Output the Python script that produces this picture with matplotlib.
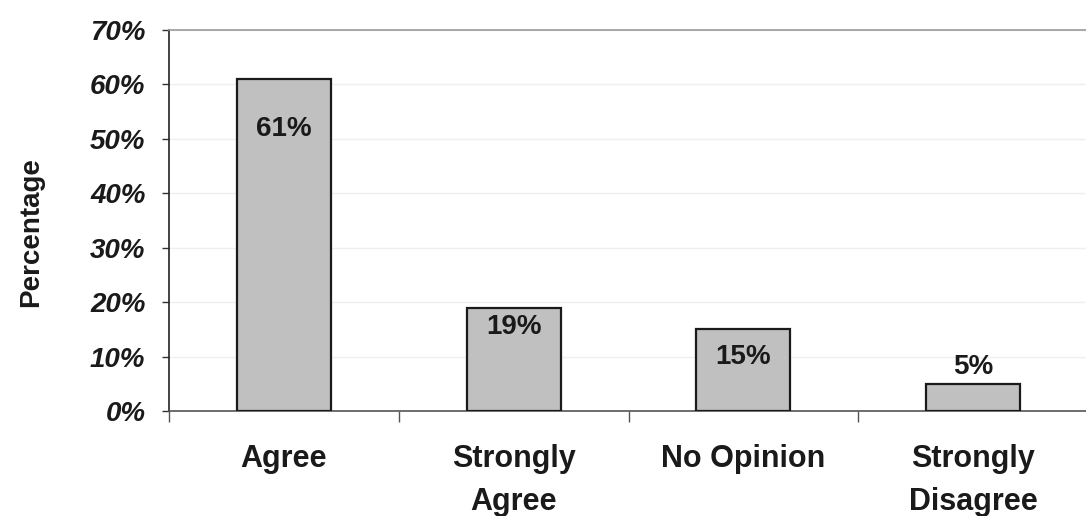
import matplotlib
matplotlib.use("Agg")
import matplotlib.pyplot as plt
from matplotlib.ticker import MultipleLocator, FuncFormatter

categories = ["Agree", "Strongly\nAgree", "No Opinion", "Strongly\nDisagree"]
percentages = [61, 19, 15, 5]
value_labels = ["61%", "19%", "15%", "5%"]

plt.rcParams["font.family"] = ["Liberation Sans", "DejaVu Sans"]

fig = plt.figure(figsize=(10.86, 5.16), dpi=100)
ax = fig.add_axes([169 / 1086, 105 / 516, 919 / 1086, 381 / 516])

x = list(range(len(categories)))
bars = ax.bar(x, percentages, width=0.41, color="#c0c0c0",
              edgecolor="#1a1a1a", linewidth=1.6, zorder=3)

# value labels: inside the taller bars, above the short one
label_offsets = [-36, -14, -20, 12]
for xi, val, txt, off in zip(x, percentages, value_labels, label_offsets):
    ax.annotate(txt, xy=(xi, val), xytext=(0, off), textcoords="offset points",
                ha="center", va="center", fontsize=20, fontweight="bold",
                color="#1a1a1a", zorder=4)

ax.set_xlim(-0.5, len(categories) - 0.5)
ax.set_ylim(0, 70)
ax.yaxis.set_major_locator(MultipleLocator(10))
ax.yaxis.set_major_formatter(FuncFormatter(lambda v, p: f"{int(v)}%"))
ax.grid(axis="y", color="#efefef", linewidth=1.0, zorder=0)

# category labels centred under bars, ticks at category boundaries
ax.set_xticks(x)
ax.set_xticklabels(categories, fontsize=22, fontweight="bold", linespacing=1.55,
                   color="#1a1a1a")
ax.tick_params(axis="x", which="major", length=0, pad=24)
ax.set_xticks([i + 0.5 for i in range(-1, len(categories))], minor=True)
ax.tick_params(axis="x", which="minor", length=8, width=1, color="#555555",
               direction="out")

for lbl in ax.get_yticklabels():
    lbl.set_fontsize(20)
    lbl.set_fontweight("bold")
    lbl.set_fontstyle("italic")
    lbl.set_color("#1a1a1a")
ax.tick_params(axis="y", length=5, width=1, color="#333333", pad=12)

ax.set_ylabel("Percentage", fontsize=20, fontweight="bold", color="#1a1a1a")
ax.yaxis.set_label_coords(-0.136, 0.47)

ax.spines["right"].set_visible(False)
ax.spines["top"].set_color("#9a9a9a")
ax.spines["top"].set_linewidth(1.2)
ax.spines["left"].set_color("#222222")
ax.spines["left"].set_linewidth(1.2)
ax.spines["bottom"].set_color("#555555")
ax.spines["bottom"].set_linewidth(1.2)

fig.savefig("out.png", dpi=100, facecolor="white")
